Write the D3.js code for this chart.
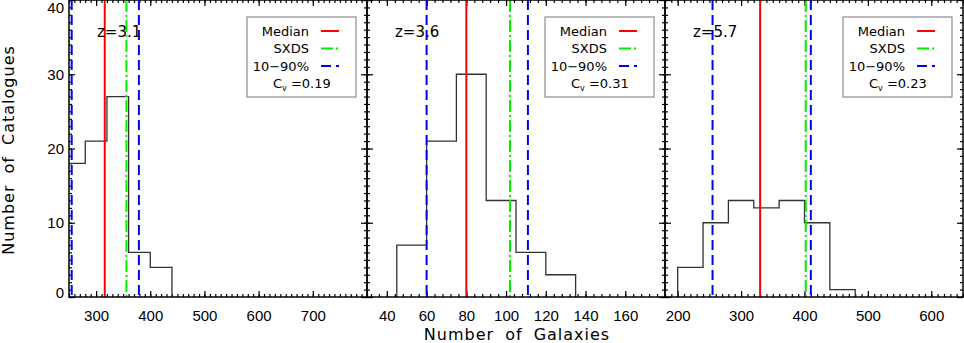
<!DOCTYPE html>
<html>
<head>
<meta charset="utf-8">
<script src="https://cdn.jsdelivr.net/npm/d3@7"></script>
<style>
	body { margin: 0; background: #fff; }
	svg { display: block; font-family: "DejaVu Sans", sans-serif; }
	.axis text { font-size: 15px; fill: #000; }
	.axis line { stroke: #000; stroke-width: 1.2; }
</style>
</head>
<body>
<div id="chart"></div>
<script>
// redshift of each panel
var redshifts = ['z=3.1', 'z=3.6', 'z=5.7'];
var cvValues = ['0.19', '0.31', '0.23'];

// histogram bins: first left edge, bin width, counts
var binStart = [240, 45, 200];
var binWidth = [40, 15, 40];
var counts1 = [18, 21, 27, 6, 4];
var counts2 = [7, 21, 30, 13, 6, 3];
var counts3 = [4, 10, 13, 12, 13, 10, 1];
var counts = [counts1, counts2, counts3];

// vertical markers
var medians = [316, 80, 330];
var sxds = [356, 102, 402];
var p10 = [255, 60, 255];
var p90 = [379, 111, 410];

// axes
var xDomains = [[250, 800], [30, 180], [180, 650]];
var xMajor = [[300, 400, 500, 600, 700], [40, 60, 80, 100, 120, 140, 160], [200, 300, 400, 500, 600]];
var xMinorStep = [10, 4, 10];
var yMajor = [0, 10, 20, 30, 40];

var legendNames = ['Median', 'SXDS', '10\u221290%'];
var legendColors = ['#ff0000', '#00ee00', '#0000ff'];
var legendDash = [null, '12,3,2,3', '10,5'];

function drawChart() {
	var W = 964, H = 343;
	var mLeft = 69, mTop = 0, pw = 298, ph = 297;

	var svg = d3.select('#chart').append('svg')
		.attr('width', W)
		.attr('height', H);

	var y = d3.scaleLinear().domain([0, 40]).range([ph, 0]);

	for (var p = 0; p < 3; p++) {
		var x = d3.scaleLinear().domain(xDomains[p]).range([0, pw]);
		var g = svg.append('g')
			.attr('transform', 'translate(' + (mLeft + p * pw) + ',' + mTop + ')');

		g.append('clipPath').attr('id', 'clip' + p)
			.append('rect').attr('width', pw).attr('height', ph);

		// minor ticks
		var d0 = xDomains[p][0], d1 = xDomains[p][1];
		var start = Math.ceil(d0 / xMinorStep[p]) * xMinorStep[p];
		var minorX = d3.range(start, d1 + 0.1, xMinorStep[p]);
		var minorY = d3.range(0, 40.1, 1);

		g.append('g').attr('class', 'axis').attr('transform', 'translate(0,' + ph + ')')
			.call(d3.axisBottom(x).tickValues(minorX).tickSize(-3).tickFormat(''))
			.select('.domain').remove();
		g.append('g').attr('class', 'axis')
			.call(d3.axisTop(x).tickValues(minorX).tickSize(-3).tickFormat(''))
			.select('.domain').remove();
		g.append('g').attr('class', 'axis').attr('transform', 'translate(0,' + ph + ')')
			.call(d3.axisBottom(x).tickValues(xMajor[p]).tickSize(-6).tickPadding(13).tickFormat(d3.format('d')))
			.select('.domain').remove();
		g.append('g').attr('class', 'axis')
			.call(d3.axisTop(x).tickValues(xMajor[p]).tickSize(-6).tickFormat(''))
			.select('.domain').remove();

		g.append('g').attr('class', 'axis')
			.call(d3.axisLeft(y).tickValues(minorY).tickSize(-3).tickFormat(''))
			.select('.domain').remove();
		g.append('g').attr('class', 'axis').attr('transform', 'translate(' + pw + ',0)')
			.call(d3.axisRight(y).tickValues(minorY).tickSize(-3).tickFormat(''))
			.select('.domain').remove();
		var yAx = g.append('g').attr('class', 'axis')
			.call(d3.axisLeft(y).tickValues(yMajor).tickSize(-6).tickPadding(5)
				.tickFormat(p == 0 ? d3.format('d') : ''));
		yAx.select('.domain').remove();
		// keep end labels inside the picture, like the original
		yAx.selectAll('text')
			.attr('dy', d => d == 40 ? '0.85em' : (d == 0 ? '0.05em' : '0.32em'));
		g.append('g').attr('class', 'axis').attr('transform', 'translate(' + pw + ',0)')
			.call(d3.axisRight(y).tickValues(yMajor).tickSize(-6).tickFormat(''))
			.select('.domain').remove();

		// histogram as a step outline
		var c = counts[p];
		var pts = [[binStart[p], 0]];
		c.forEach(function (v, i) {
			var a = binStart[p] + i * binWidth[p];
			pts.push([a, v]);
			pts.push([a + binWidth[p], v]);
		});
		pts.push([binStart[p] + c.length * binWidth[p], 0]);

		var plot = g.append('g').attr('clip-path', 'url(#clip' + p + ')');
		plot.append('path')
			.datum(pts)
			.attr('fill', 'none')
			.attr('stroke', '#333')
			.attr('stroke-width', 1.3)
			.attr('d', d3.line().x(d => x(d[0])).y(d => y(d[1])));

		g.append('text')
			.attr('x', 28)
			.attr('y', 37)
			.style('font-size', '15px')
			.text(redshifts[p]);

		var marks = [
			{ v: medians[p], i: 0 },
			{ v: sxds[p], i: 1 },
			{ v: p10[p], i: 2 },
			{ v: p90[p], i: 2 }
		];
		plot.selectAll('.vline')
			.data(marks)
			.join('line')
			.attr('class', 'vline')
			.attr('x1', d => x(d.v)).attr('x2', d => x(d.v))
			.attr('y1', 0).attr('y2', ph)
			.attr('stroke', d => legendColors[d.i])
			.attr('stroke-width', 2)
			.attr('stroke-dasharray', d => legendDash[d.i]);

		// frame
		g.append('rect')
			.attr('width', pw).attr('height', ph)
			.attr('fill', 'none')
			.attr('stroke', '#000')
			.attr('stroke-width', 1.5);

		// legend
		var lg = g.append('g').attr('transform', 'translate(178,17)');
		lg.append('rect')
			.attr('width', 109).attr('height', 80)
			.attr('fill', '#fff')
			.attr('stroke', '#777')
			.attr('stroke-width', 1);
		legendNames.forEach(function (n, i) {
			var ly = 14 + i * 17.5;
			lg.append('text')
				.attr('x', 62).attr('y', ly)
				.attr('dy', '0.35em')
				.attr('text-anchor', 'end')
				.style('font-size', '13px')
				.text(n);
			lg.append('line')
				.attr('x1', 74).attr('x2', 92)
				.attr('y1', ly).attr('y2', ly)
				.attr('stroke', legendColors[i])
				.attr('stroke-width', 2)
				.attr('stroke-dasharray', legendDash[i]);
		});
		var cv = lg.append('text')
			.attr('x', 26).attr('y', 14 + 3 * 17.5)
			.attr('dy', '0.35em')
			.style('font-size', '13px');
		cv.append('tspan').text('C');
		cv.append('tspan').attr('dy', 3).style('font-size', '8px').text('v');
		cv.append('tspan').attr('dy', -3).text(' =' + cvValues[p]);
	}

	svg.append('text')
		.attr('x', 517)
		.attr('y', 340)
		.attr('text-anchor', 'middle')
		.style('font-size', '16px')
		.style('letter-spacing', '1px')
		.style('word-spacing', '5px')
		.text('Number of Galaxies');

	svg.append('text')
		.attr('transform', 'translate(14,150) rotate(-90)')
		.attr('text-anchor', 'middle')
		.style('font-size', '16px')
		.style('letter-spacing', '1px')
		.style('word-spacing', '5px')
		.text('Number of Catalogues');
}

drawChart();
</script>
</body>
</html>
